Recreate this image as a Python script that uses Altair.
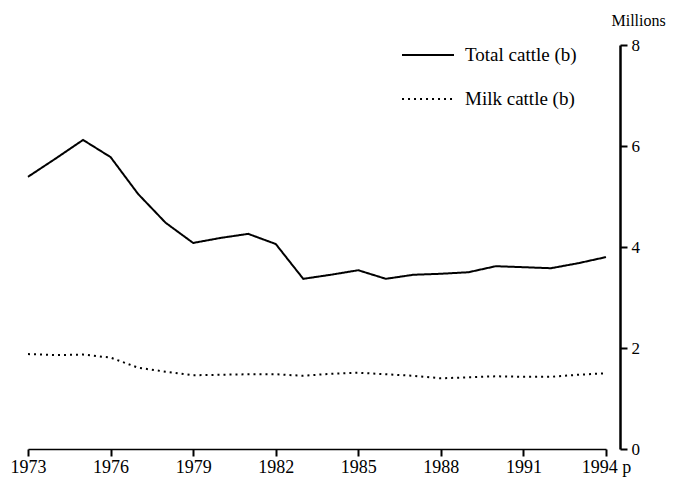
import altair as alt
import pandas as pd

years = list(range(1973, 1995))
total_cattle = [5.39, 5.75, 6.12, 5.78, 5.05, 4.48, 4.08, 4.18, 4.26, 4.06, 3.37, 3.45,
                3.54, 3.37, 3.45, 3.47, 3.50, 3.62, 3.60, 3.58, 3.68, 3.80]
milk_cattle = [1.88, 1.86, 1.87, 1.81, 1.61, 1.53, 1.46, 1.47, 1.48, 1.48, 1.45, 1.49,
               1.51, 1.48, 1.45, 1.40, 1.42, 1.44, 1.43, 1.43, 1.47, 1.50]
series_names = ["Total cattle (b)", "Milk cattle (b)"]
x_ticks = [1973, 1976, 1979, 1982, 1985, 1988, 1991, 1994]
y_ticks = [0, 2, 4, 6, 8]

rows = []
for i, yr in enumerate(years):
    rows.append({"year": yr, "value": total_cattle[i], "series": series_names[0]})
    rows.append({"year": yr, "value": milk_cattle[i], "series": series_names[1]})
df = pd.DataFrame(rows)

FONT = "Liberation Serif"

chart = alt.Chart(df).mark_line(strokeWidth=2, color="black").encode(
    x=alt.X("year:Q",
            scale=alt.Scale(domain=[1973, 1994], nice=False, zero=False),
            axis=alt.Axis(values=x_ticks, format="d", title=None, grid=False,
                          orient="bottom", tickSize=7, labelPadding=2, labelFlush=False,
                          labelExpr="datum.value == 1994 ? '1994 p' : datum.label",
                          domainColor="black", tickColor="black", labelColor="black",
                          labelFont=FONT, labelFontSize=18, domainWidth=1.5, tickWidth=2)),
    y=alt.Y("value:Q",
            scale=alt.Scale(domain=[0, 8], nice=False),
            axis=alt.Axis(values=y_ticks, title="Millions", grid=False, orient="right",
                          offset=14, tickSize=7, labelPadding=4,
                          titleAngle=0, titleAlign="left", titleBaseline="bottom",
                          titleX=-9, titleY=-17, titleFont=FONT, titleFontSize=16,
                          titleFontWeight="normal", titleColor="black",
                          domainColor="black", tickColor="black", labelColor="black",
                          labelFont=FONT, labelFontSize=17, domainWidth=2.5, tickWidth=2)),
    strokeDash=alt.StrokeDash(
        "series:N",
        scale=alt.Scale(domain=series_names, range=[[1, 0], [2, 4]]),
        legend=alt.Legend(title=None, orient="none", legendX=373, legendY=-17,
                          symbolType="stroke", symbolSize=2700, symbolStrokeWidth=2,
                          symbolStrokeColor="black", rowPadding=7, labelOffset=10,
                          labelFont=FONT, labelFontSize=19, labelColor="black")),
).properties(
    width=578, height=404,
    autosize=alt.AutoSizeParams(type="none"),
    padding={"left": 20, "top": 37, "right": 79, "bottom": 29},
).configure_view(stroke=None)

chart.save("out.html", embed_options={"renderer": "svg", "actions": False})
